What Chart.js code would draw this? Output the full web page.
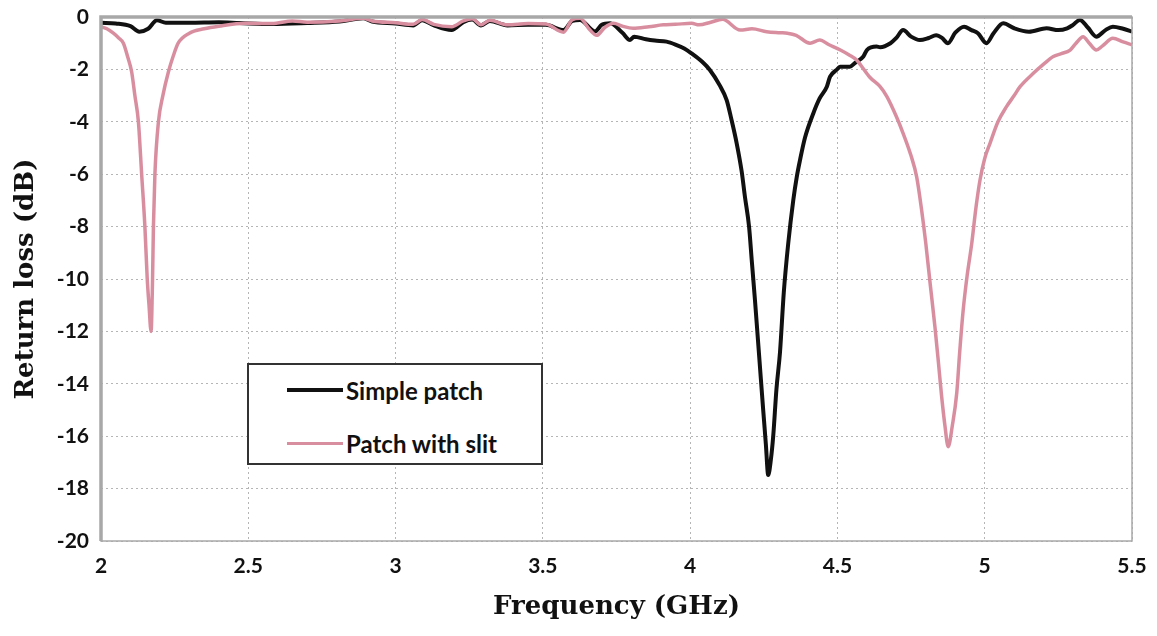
<!DOCTYPE html>
<html>
<head>
<meta charset="utf-8">
<script src="https://cdn.jsdelivr.net/npm/chart.js@4.4.1/dist/chart.umd.min.js"></script>
<style>
  html, body { margin: 0; padding: 0; background: #fff; }
  #wrap { position: relative; width: 1157px; height: 636px; }
  #legendBox {
    position: absolute; left: 247px; top: 363px; width: 292px; height: 98px;
    border: 2px solid #333; background: #fff;
    font-family: Lato, "Open Sans", sans-serif; font-weight: bold; font-size: 24px; color: #111;
  }
  .item { position: absolute; left: 38px; height: 26px; display: flex; align-items: center; }
  .swatch { display: inline-block; width: 56px; margin-right: 3px; }
</style>
</head>
<body>
<div id="wrap">
  <canvas id="rlChart" width="1157" height="636"></canvas>
  <div id="legendBox">
    <div class="item" style="top:12px"><span class="swatch" style="height:4px;background:#111"></span>Simple patch</div>
    <div class="item" style="top:65px"><span class="swatch" style="height:3px;background:#d98ea0"></span>Patch with slit</div>
  </div>
</div>
<script>
// x tick labels
var freqTicks = [2, 2.5, 3, 3.5, 4, 4.5, 5, 5.5];

// Simple patch (black)
var freqSimple = [2.00, 2.05, 2.10, 2.13, 2.16, 2.19, 2.22, 2.30, 2.40, 2.47, 2.58, 2.70, 2.81, 2.89, 2.92,
  3.00, 3.06, 3.09, 3.13, 3.19, 3.23, 3.26, 3.29, 3.32, 3.38, 3.45, 3.51, 3.57, 3.60, 3.626, 3.677, 3.70,
  3.728, 3.77, 3.796, 3.81, 3.85, 3.88, 3.92, 3.95, 3.98, 4.005, 4.04, 4.067, 4.10, 4.124, 4.14, 4.158,
  4.175, 4.186, 4.20, 4.209, 4.22, 4.231, 4.24, 4.248, 4.257, 4.265, 4.274, 4.282, 4.293, 4.305, 4.318,
  4.333, 4.35, 4.362, 4.373, 4.39, 4.418, 4.44, 4.464, 4.475, 4.497, 4.509, 4.542, 4.56, 4.588, 4.60,
  4.633, 4.645, 4.68, 4.70, 4.723, 4.75, 4.78, 4.81, 4.835, 4.855, 4.875, 4.90, 4.93, 4.955, 4.977,
  5.006, 5.03, 5.063, 5.10, 5.15, 5.21, 5.25, 5.28, 5.30, 5.323, 5.35, 5.379, 5.41, 5.435, 5.47, 5.50];
var lossSimple = [-0.22, -0.25, -0.35, -0.56, -0.45, -0.12, -0.22, -0.22, -0.2, -0.23, -0.27, -0.23, -0.17, -0.05, -0.17,
  -0.25, -0.32, -0.12, -0.32, -0.5, -0.2, -0.1, -0.32, -0.15, -0.32, -0.3, -0.3, -0.5, -0.15, -0.11, -0.55, -0.3,
  -0.24, -0.6, -0.88, -0.75, -0.85, -0.9, -0.94, -1.05, -1.2, -1.39, -1.7, -2.02, -2.6, -3.17, -3.9, -4.82,
  -5.9, -6.86, -8.0, -9.27, -10.8, -12.45, -13.8, -15.0, -16.3, -17.48, -16.9, -16.0, -14.2, -12.8, -10.5,
  -8.64, -7.0, -6.1, -5.46, -4.6, -3.68, -3.1, -2.66, -2.28, -2.02, -1.9, -1.9, -1.75, -1.51, -1.26,
  -1.13, -1.15, -1.0, -0.8, -0.5, -0.75, -0.88, -0.8, -0.7, -0.8, -1.0, -0.6, -0.37, -0.5, -0.62,
  -1.0, -0.62, -0.24, -0.43, -0.56, -0.43, -0.5, -0.43, -0.3, -0.11, -0.4, -0.75, -0.5, -0.37, -0.45, -0.56];

// Patch with slit (pink)
var freqSlit = [2.00, 2.02, 2.042, 2.06, 2.076, 2.09, 2.104, 2.115, 2.127, 2.138, 2.149, 2.157, 2.163, 2.170,
  2.175, 2.178, 2.183, 2.195, 2.21, 2.229, 2.245, 2.262, 2.30, 2.35, 2.40, 2.49, 2.58, 2.65, 2.70, 2.81,
  2.89, 2.92, 3.00, 3.06, 3.09, 3.13, 3.19, 3.23, 3.26, 3.29, 3.32, 3.38, 3.45, 3.51, 3.57, 3.60, 3.626,
  3.66, 3.683, 3.71, 3.74, 3.77, 3.806, 3.86, 3.909, 3.95, 4.005, 4.03, 4.07, 4.11, 4.17, 4.21, 4.26,
  4.305, 4.33, 4.36, 4.407, 4.44, 4.47, 4.51, 4.54, 4.565, 4.58, 4.61, 4.645, 4.668, 4.70, 4.723, 4.75,
  4.769, 4.785, 4.80, 4.815, 4.831, 4.843, 4.853, 4.865, 4.876, 4.89, 4.905, 4.915, 4.927, 4.94, 4.956,
  4.97, 4.984, 5.00, 5.018, 5.045, 5.074, 5.10, 5.12, 5.165, 5.20, 5.233, 5.26, 5.29, 5.31, 5.334, 5.355,
  5.379, 5.40, 5.435, 5.47, 5.50];
var lossSlit = [-0.37, -0.45, -0.62, -0.8, -1.0, -1.5, -2.09, -3.0, -4.0, -6.0, -8.0, -10.0, -11.0, -12.0,
  -10.0, -8.0, -6.0, -4.0, -3.0, -2.09, -1.5, -1.0, -0.62, -0.45, -0.35, -0.24, -0.25, -0.15, -0.2, -0.15,
  -0.05, -0.15, -0.22, -0.28, -0.1, -0.28, -0.37, -0.15, -0.07, -0.3, -0.12, -0.3, -0.25, -0.27, -0.58, -0.1, -0.05,
  -0.5, -0.7, -0.4, -0.24, -0.35, -0.43, -0.37, -0.3, -0.28, -0.24, -0.3, -0.2, -0.09, -0.5, -0.45, -0.56,
  -0.6, -0.62, -0.7, -1.0, -0.88, -1.05, -1.26, -1.45, -1.64, -1.85, -2.3, -2.66, -3.04, -3.8, -4.44, -5.3,
  -6.1, -7.3, -8.64, -10.2, -11.82, -13.2, -14.4, -15.6, -16.4, -15.6, -14.36, -12.8, -11.18, -9.9, -8.64,
  -7.3, -6.22, -5.4, -4.82, -4.0, -3.42, -3.0, -2.66, -2.15, -1.8, -1.51, -1.4, -1.26, -1.0, -0.75, -1.0,
  -1.26, -1.1, -0.81, -0.95, -1.06];

function toPoints(xs, ys) {
  return xs.map(function (x, i) { return { x: x, y: ys[i] }; });
}

// heavier grey frame round the plot area
var framePlugin = {
  id: 'frame',
  afterDatasetsDraw: function (chart) {
    var a = chart.chartArea, ctx = chart.ctx;
    ctx.save();
    ctx.strokeStyle = '#a8a8a8';
    ctx.lineWidth = 1.5;
    ctx.strokeRect(a.left, a.top, a.right - a.left, a.bottom - a.top);
    ctx.lineWidth = 3.5;
    ctx.beginPath();
    ctx.moveTo(a.left, a.bottom);
    ctx.lineTo(a.left, a.top);
    ctx.lineTo(a.right, a.top);
    ctx.stroke();
    ctx.restore();
  }
};

var tickFont = { family: 'Lato, "Open Sans", sans-serif', weight: 'bold', size: 21 };
var titleFont = { family: '"DejaVu Serif", serif', weight: 'bold', size: 26 };

new Chart('rlChart', {
  type: 'line',
  data: {
    datasets: [
      {
        label: 'Simple patch',
        data: toPoints(freqSimple, lossSimple),
        borderColor: '#111',
        borderWidth: 4,
        pointRadius: 0,
        pointHoverRadius: 0,
        cubicInterpolationMode: 'monotone',
        order: 1
      },
      {
        label: 'Patch with slit',
        data: toPoints(freqSlit, lossSlit),
        borderColor: '#d98ea0',
        borderWidth: 3.5,
        pointRadius: 0,
        pointHoverRadius: 0,
        cubicInterpolationMode: 'monotone',
        order: 0
      }
    ]
  },
  options: {
    responsive: false,
    animation: false,
    layout: { autoPadding: false, padding: { top: 17, right: 25, left: 0, bottom: 0 } },
    plugins: { legend: { display: false }, tooltip: { enabled: false } },
    scales: {
      x: {
        type: 'linear',
        min: 2, max: 5.5,
        afterBuildTicks: function (scale) {
          scale.ticks = freqTicks.map(function (v) { return { value: v }; });
        },
        afterFit: function (scale) { scale.height = 95; scale.paddingLeft = 0; scale.paddingRight = 0; },
        ticks: {
          font: tickFont, color: '#111', padding: 13, maxRotation: 0,
          callback: function (v) { return String(v); }
        },
        grid: { color: '#b5b5b5', lineWidth: 1, drawTicks: false },
        border: { display: false, dash: [2, 3] },
        title: { display: true, text: 'Frequency (GHz)', font: titleFont, color: '#111', padding: { top: 0, bottom: 13 } }
      },
      y: {
        min: -20, max: 0,
        ticks: { stepSize: 2, font: tickFont, color: '#111', padding: 12 },
        afterFit: function (scale) { scale.width = 101; scale.paddingTop = 0; scale.paddingBottom = 0; },
        grid: { color: '#b5b5b5', lineWidth: 1, drawTicks: false },
        border: { display: false, dash: [2, 3] },
        title: { display: true, text: 'Return loss (dB)', font: titleFont, color: '#111', padding: { top: 11, bottom: 0 } }
      }
    }
  },
  plugins: [framePlugin]
});
</script>
</body>
</html>
